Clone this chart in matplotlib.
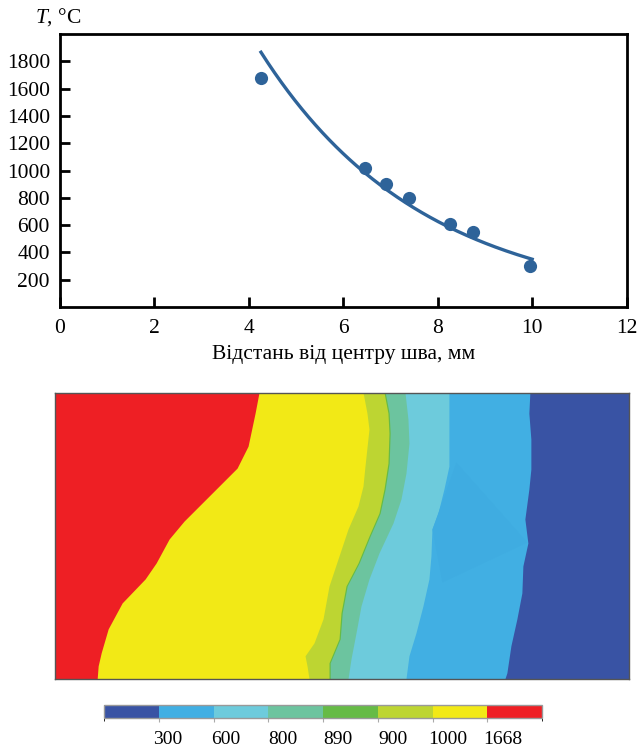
import numpy as np
import matplotlib
matplotlib.use("Agg")
import matplotlib.pyplot as plt
from matplotlib.colors import ListedColormap, BoundaryNorm
from matplotlib.cm import ScalarMappable
from matplotlib.transforms import ScaledTranslation

plt.rcParams['font.family'] = ['Liberation Serif', 'DejaVu Serif']
plt.rcParams['mathtext.fontset'] = 'custom'
plt.rcParams['mathtext.rm'] = 'Liberation Serif'
plt.rcParams['mathtext.it'] = 'Liberation Serif:italic'

# Measured peak temperatures vs distance from weld centre
distance_mm = [4.26, 6.47, 6.90, 7.39, 8.27, 8.75, 9.96]
temperature_c = [1680, 1016, 901, 801, 606, 547, 300]

# Isotherm traces across the section (x across, depth down), panel units
panel_w, panel_h = 575, 287
iso_1668 = [(205, 0), (201, 21), (194, 54), (183, 76), (152, 107), (130, 129), (115, 147),
            (102, 171), (91, 187), (68, 211), (54, 237), (47, 261), (44, 274), (43, 287)]
iso_1000 = [(309, 0), (313, 21), (315, 37), (311, 74), (309, 94), (304, 114), (294, 137),
            (285, 164), (275, 194), (269, 227), (260, 251), (251, 264), (253, 274), (255, 287)]
iso_900 = [(330, 0), (334, 21), (335, 41), (334, 71), (330, 97), (325, 121), (315, 144),
           (304, 171), (292, 194), (287, 221), (285, 247), (275, 271), (275, 287)]
iso_890 = [(331.2, 0), (335.2, 21), (336.2, 41), (335.2, 71), (331.2, 97), (326.2, 121),
           (316.2, 144), (305.2, 171), (293.2, 194), (288.2, 221), (286.2, 247),
           (276.2, 271), (276.2, 287)]
iso_800 = [(351, 0), (354, 27), (355, 51), (352, 81), (347, 107), (339, 131), (325, 161),
           (315, 187), (307, 214), (302, 241), (297, 267), (294, 287)]
iso_600 = [(395, 0), (395, 21), (395, 47), (395, 74), (390, 97), (384, 121), (378, 137),
           (377, 164), (375, 187), (369, 214), (362, 241), (355, 264), (352, 287)]
iso_300 = [(476, 0), (475, 21), (477, 47), (477, 77), (475, 97), (471, 127), (474, 151),
           (469, 174), (468, 201), (463, 227), (457, 254), (453, 281), (451, 287)]
mesh_patch = [(378, 137), (402, 70), (473, 150), (388, 190)]

# Temperature bands of the colour scale
band_edges = [0, 300, 600, 800, 890, 900, 1000, 1668, 2000]
band_ticks = [300, 600, 800, 890, 900, 1000, 1668]
band_colors = ['#3953A4', '#41AFE3', '#6DCBDC', '#6CC49F', '#66BB46', '#BDD532', '#F2E916', '#EE1F24']

line_color = '#2E6399'

fig = plt.figure(figsize=(6.39, 7.49), dpi=100)
W, H = 639, 749

# ---- Temperature vs distance ----
ax = fig.add_axes([59.7 / W, 1 - 307 / H, (626.7 - 59.7) / W, (307 - 34) / H])
x = np.array(distance_mm)
t = np.array(temperature_c)
b, a = np.polyfit(x, np.log(t), 1)
xf = np.linspace(x.min(), 10.0, 200)
ax.plot(xf, np.exp(a + b * xf), color=line_color, lw=2.4, zorder=2)
ax.plot(x, t, 'o', color=line_color, ms=9.5, mec='none', zorder=3)
ax.set_xlim(0, 12)
ax.set_ylim(0, 2000)
ax.set_xticks([0, 2, 4, 6, 8, 10, 12])
ax.set_yticks([200, 400, 600, 800, 1000, 1200, 1400, 1600, 1800])
for s in ax.spines.values():
    s.set_linewidth(2.0)
ax.tick_params(direction='in', length=7, width=2, labelsize=15.5, pad=7)
ax.tick_params(axis='x', pad=8.5)
ax.set_xlabel('Відстань від центру шва, мм', fontsize=15.5, labelpad=5)
fig.text(35 / W, 1 - 17 / H, '$T$, °C', fontsize=15.5, ha='left', va='center')

# ---- Temperature field in the section ----
ax2 = fig.add_axes([54.7 / W, 1 - 679.3 / H, 574.6 / W, 286.6 / H])
ax2.set_xlim(0, panel_w)
ax2.set_ylim(panel_h, 0)
ax2.fill([0, panel_w, panel_w, 0], [0, 0, panel_h, panel_h], color=band_colors[7], lw=0)
isotherms = [iso_1668, iso_1000, iso_900, iso_890, iso_800, iso_600, iso_300]
colors_right = [band_colors[6], band_colors[5], band_colors[4], band_colors[3],
                band_colors[2], band_colors[1], band_colors[0]]
for iso, col in zip(isotherms, colors_right):
    xs = [p[0] for p in iso] + [panel_w, panel_w]
    ys = [p[1] for p in iso] + [panel_h, 0]
    ax2.fill(xs, ys, color=col, lw=0)
ax2.fill([p[0] for p in mesh_patch], [p[1] for p in mesh_patch], color='#3FACE1', lw=0)
ax2.set_xticks([])
ax2.set_yticks([])
for s in ax2.spines.values():
    s.set_linewidth(1.0)
    s.set_color('#555555')

# ---- Colour scale ----
cax = fig.add_axes([104 / W, 1 - 718.3 / H, 438 / W, 13.3 / H])
norm = BoundaryNorm(band_edges, len(band_colors))
sm = ScalarMappable(norm=norm, cmap=ListedColormap(band_colors))
cb = fig.colorbar(sm, cax=cax, orientation='horizontal', spacing='uniform',
                  ticks=band_ticks)
cb.outline.set_edgecolor('#999999')
cb.outline.set_linewidth(1.0)
cb.set_ticklabels([str(v) for v in band_ticks])
cax.tick_params(length=3, width=0.8, color='#aaaaaa', labelsize=14, pad=6)
label_shift_px = [9, 12, 15, 15, 15, 15, 16]
for lab, dx in zip(cax.get_xticklabels(), label_shift_px):
    lab.set_transform(lab.get_transform() + ScaledTranslation(dx / 100, 0, fig.dpi_scale_trans))

fig.savefig('out.png', dpi=100)
